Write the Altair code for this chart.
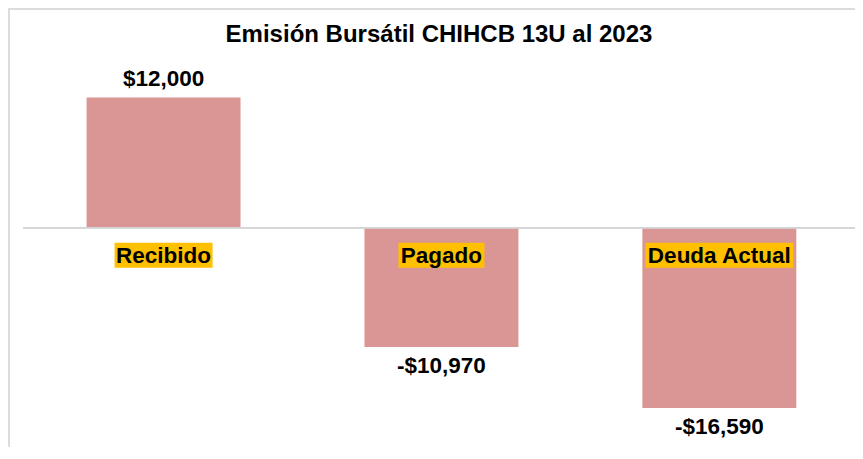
import altair as alt
import pandas as pd

categories = ["Recibido", "Pagado", "Deuda Actual"]
values = [12000, -10970, -16590]
value_labels = ["$12,000", "-$10,970", "-$16,590"]
highlight_width = {"Recibido": 98, "Pagado": 86, "Deuda Actual": 148}

df = pd.DataFrame({"cat": categories, "value": values, "label": value_labels})

W, H = 832, 380
PAD = {"left": 15, "top": 57, "right": 0, "bottom": 2}
FONT = "Liberation Sans"
BAR = "#D99694"

x = alt.X("cat:N", sort=categories, axis=None,
          scale=alt.Scale(paddingInner=0.446, paddingOuter=0.22, align=0.52))
y_scale = alt.Scale(domain=[-20000, 15000], nice=False, zero=False)

base = alt.Chart(df)

bars = base.mark_bar(color=BAR).encode(
    x=x, y=alt.Y("value:Q", axis=None, scale=y_scale), y2=alt.datum(0)
)

zero = base.mark_rule(color="#d4d4d4", strokeWidth=1.5).encode(
    y=alt.datum(0), x=alt.value(0), x2=alt.value(W)
)

pos = base.transform_filter("datum.value >= 0").mark_text(
    font=FONT, fontSize=22.5, fontWeight="bold", color="black", baseline="middle", dy=-19
).encode(x=x, y=alt.Y("value:Q", scale=y_scale), text="label:N")

neg = base.transform_filter("datum.value < 0").mark_text(
    font=FONT, fontSize=22.5, fontWeight="bold", color="black", baseline="middle", dy=19
).encode(x=x, y=alt.Y("value:Q", scale=y_scale), text="label:N")

highlights = []
for c in categories:
    highlights.append(
        base.transform_filter(alt.datum.cat == c).mark_bar(
            color="#FFC000", width=highlight_width[c], yOffset=15, y2Offset=40
        ).encode(x=x, y=alt.datum(0), y2=alt.datum(0))
    )

cat_text = base.mark_text(
    font=FONT, fontSize=22.5, fontWeight="bold", color="black", baseline="middle", dy=28
).encode(x=x, y=alt.datum(0), text="cat:N")

top_border = base.mark_rule(color="#dcdcdc", strokeWidth=2).encode(
    x=alt.value(-PAD["left"]), x2=alt.value(W + PAD["right"]), y=alt.value(1 - PAD["top"])
)
left_border = base.mark_rule(color="#dcdcdc", strokeWidth=2).encode(
    x=alt.value(1 - PAD["left"]), y=alt.value(-PAD["top"]), y2=alt.value(H + PAD["bottom"])
)

chart = alt.layer(
    top_border, left_border, bars, zero, *highlights, cat_text, pos, neg
).properties(
    width=W, height=H,
    padding=PAD,
    autosize=alt.AutoSizeParams(type="none"),
    title=alt.TitleParams(
        "Emisión Bursátil CHIHCB 13U al 2023", font=FONT, fontSize=24,
        fontWeight="bold", color="black", anchor="middle", offset=-40
    ),
).configure(background="white", view=alt.ViewConfig(stroke=None, strokeWidth=0))

chart.save("out.html", embed_options={"renderer": "svg", "actions": False})
